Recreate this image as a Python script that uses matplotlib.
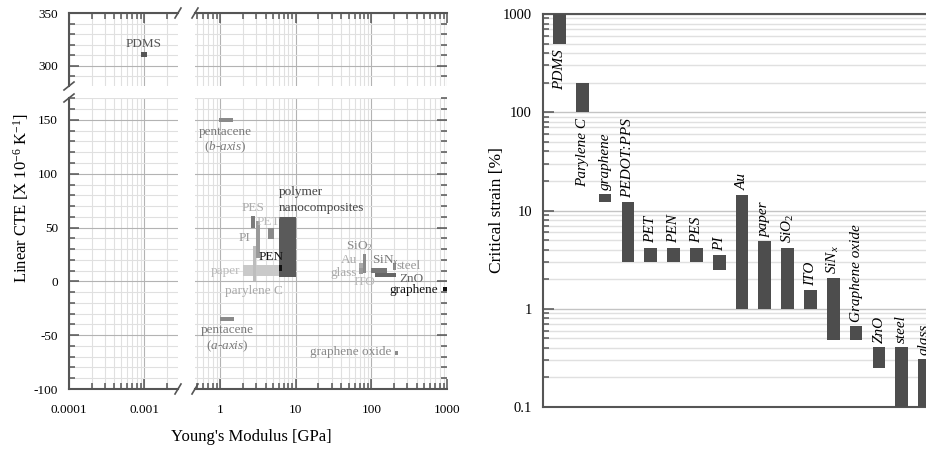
import numpy as np
import matplotlib
matplotlib.use("Agg")
import matplotlib.pyplot as plt
from matplotlib.patches import Rectangle
from matplotlib.ticker import LogLocator, MultipleLocator, FuncFormatter, NullFormatter

plt.rcParams['font.family'] = ['Liberation Serif', 'DejaVu Serif']
plt.rcParams['mathtext.fontset'] = 'custom'
plt.rcParams['mathtext.rm'] = 'Liberation Serif'
plt.rcParams['mathtext.it'] = 'Liberation Serif:italic'
plt.rcParams['axes.unicode_minus'] = False

# ---- left panel: CTE vs Young's modulus (boxes = ranges) ----
cte_names = ['PDMS', 'pentacene (b-axis)', 'pentacene (a-axis)', 'paper', 'parylene C',
             'PI', 'PES', 'PET', 'polymer nanocomposites', 'PEN', 'glass', 'Au', 'SiO2',
             'SiN', 'ZnO', 'steel', 'graphene', 'graphene oxide']
e_low = [0.00092, 0.97, 1.0, 2.0, 2.7, 2.95, 2.54, 4.3, 6.0, 6.0, 69, 69, 77,
         100, 112, 191, 883, 205]
e_high = [0.00108, 1.5, 1.55, 6.2, 3.0, 3.35, 2.89, 5.1, 10.0, 6.6, 77, 77, 85,
          160, 211, 211, 1000, 225]
cte_low = [308.5, 148, -37, 5, 0, 22, 50, 39, 4, 10, 7, 12, 8,
           7.5, 3.7, 11, -9.3, -68.5]
cte_high = [313, 152, -33, 15, 33, 56, 61, 50, 60, 15, 12, 17, 25,
            12, 7.4, 17, -5.5, -64.7]
box_colors = ['#555555', '#8a8a8a', '#8a8a8a', '#c9c9c9', '#bdbdbd', '#9a9a9a', '#7a7a7a',
              '#8a8a8a', '#5a5a5a', '#111111', '#9a9a9a', '#aaaaaa', '#8a8a8a',
              '#777777', '#666666', '#8a8a8a', '#111111', '#8a8a8a']

# label text, E, CTE, horizontal alignment, colour
cte_labels = [
    ('PDMS', 0.00098, 321, 'center', '#555555'),
    ('pentacene', 1.18, 139, 'center', '#7a7a7a'),
    (r'($\mathit{b}$-$\mathit{axis}$)', 1.18, 125, 'center', '#7a7a7a'),
    ('pentacene', 1.26, -45.5, 'center', '#7a7a7a'),
    (r'($\mathit{a}$-$\mathit{axis}$)', 1.26, -60, 'center', '#7a7a7a'),
    ('polymer', 6.0, 83, 'left', '#444444'),
    ('nanocomposites', 6.0, 68, 'left', '#444444'),
    ('PES', 2.73, 68, 'center', '#aaaaaa'),
    ('PET', 4.4, 55, 'center', '#bbbbbb'),
    ('PI', 2.14, 40, 'center', '#999999'),
    ('PEN', 4.7, 23, 'center', '#111111'),
    ('paper', 1.84, 10, 'right', '#bbbbbb'),
    ('parylene C', 2.77, -8.5, 'center', '#aaaaaa'),
    ('SiO$_2$', 70, 33, 'center', '#888888'),
    ('Au', 65, 19.5, 'right', '#aaaaaa'),
    ('glass', 65, 8, 'right', '#aaaaaa'),
    ('ITO', 80, -1, 'center', '#bbbbbb'),
    ('SiN$_x$', 101, 19.5, 'left', '#777777'),
    ('steel', 218, 14, 'left', '#999999'),
    ('ZnO', 232, 2, 'left', '#666666'),
    ('graphene', 760, -8.4, 'right', '#111111'),
    ('graphene oxide', 182, -66, 'right', '#888888'),
]

# ---- right panel: critical strain ranges ----
strain_names = ['PDMS', 'Parylene C', 'graphene', 'PEDOT:PPS', 'PET', 'PEN', 'PES', 'PI',
                'Au', 'paper', 'SiO$_2$', 'ITO', 'SiN$_x$', 'Graphene oxide', 'ZnO',
                'steel', 'glass']
strain_low = [500, 100, 12.3, 3.0, 3.0, 3.0, 3.0, 2.5, 1.0, 1.0, 1.0, 1.0, 0.48, 0.48,
              0.25, 0.1, 0.1]
strain_high = [1000, 200, 14.8, 12.3, 4.2, 4.2, 4.2, 3.5, 14.5, 4.9, 4.2, 1.56, 2.07, 0.67,
               0.41, 0.41, 0.31]
label_below = ['PDMS', 'Parylene C']

W, H = 926, 451
fig = plt.figure(figsize=(W / 100, H / 100), dpi=100)


def add_ax(x0, y0, x1, y1):
    return fig.add_axes([x0 / W, 1 - y1 / H, (x1 - x0) / W, (y1 - y0) / H])


ax_tl = add_ax(69, 13, 178, 86)
ax_tr = add_ax(195, 13, 447, 86)
ax_bl = add_ax(69, 98, 178, 389)
ax_br = add_ax(195, 98, 447, 389)
ax_r = add_ax(543, 14, 941, 407)

spine_c = '#555555'
logfmt = FuncFormatter(lambda v, p: f"{v:g}")

for ax in [ax_tl, ax_tr, ax_bl, ax_br]:
    ax.set_xscale('log')
    ax.xaxis.set_major_locator(LogLocator(base=10, numticks=12))
    ax.xaxis.set_minor_locator(LogLocator(base=10, subs=np.arange(2, 10), numticks=12))
    ax.xaxis.set_major_formatter(logfmt)
    ax.xaxis.set_minor_formatter(NullFormatter())
    ax.yaxis.set_major_locator(MultipleLocator(50))
    ax.yaxis.set_minor_locator(MultipleLocator(10))
    ax.grid(which='minor', color='#e0e0e0', lw=0.8)
    ax.grid(which='major', color='#b3b3b3', lw=0.8)
    ax.set_axisbelow(True)
    for s in ax.spines.values():
        s.set_visible(False)
        s.set_color(spine_c)
        s.set_linewidth(1.5)
    ax.tick_params(which='both', direction='in', color=spine_c, width=1.1,
                   left=False, right=False, top=False, bottom=False,
                   labelleft=False, labelbottom=False, labelsize=9.5, pad=8)
    ax.tick_params(which='major', length=7)
    ax.tick_params(which='minor', length=4)

for ax in [ax_tl, ax_bl]:
    ax.set_xlim(1e-4, 2.84e-3)
for ax in [ax_tr, ax_br]:
    ax.set_xlim(0.467, 1000)
for ax in [ax_tl, ax_tr]:
    ax.set_ylim(281, 350)
    ax.spines['top'].set_visible(True)
    ax.tick_params(which='both', top=True)
for ax in [ax_bl, ax_br]:
    ax.set_ylim(-100, 170.4)
    ax.spines['bottom'].set_visible(True)
    ax.tick_params(which='both', bottom=True, labelbottom=True)
    ax.tick_params(axis='x', pad=11)
for ax in [ax_tl, ax_bl]:
    ax.spines['left'].set_visible(True)
    ax.tick_params(which='both', left=True, labelleft=True)
for ax in [ax_tr, ax_br]:
    ax.tick_params(axis='y', which='both', right=True)

for i, name in enumerate(cte_names):
    for ax in [ax_tl, ax_tr, ax_bl, ax_br]:
        x0, x1 = ax.get_xlim()
        y0, y1 = ax.get_ylim()
        if x0 <= e_low[i] < x1 and y0 <= cte_low[i] < y1:
            ax.add_patch(Rectangle((e_low[i], cte_low[i]), e_high[i] - e_low[i],
                                   cte_high[i] - cte_low[i], color=box_colors[i], lw=0))

for text, e, c, ha, col in cte_labels:
    for ax in [ax_tl, ax_tr, ax_bl, ax_br]:
        x0, x1 = ax.get_xlim()
        y0, y1 = ax.get_ylim()
        if x0 <= e < x1 and y0 <= c < y1:
            ax.text(e, c, text, ha=ha, va='center', fontsize=9.5, color=col)

# break marks
def slash(xp, yp, dx, dy):
    fig.add_artist(plt.Line2D([(xp - dx) / W, (xp + dx) / W], [1 - (yp + dy) / H, 1 - (yp - dy) / H],
                              color=spine_c, lw=1.2))


for xp in [178, 195]:
    slash(xp, 389, 3, 5)
    slash(xp, 13, 3, 5)
for yp in [86, 98]:
    slash(69, yp, 5, 4)

fig.text(251 / W, 1 - 437 / H, "Young's Modulus [GPa]", ha='center', va='center', fontsize=12)
fig.text(21 / W, 1 - 198 / H, r"Linear CTE [X 10$^{-6}$ K$^{-1}$]", ha='center', va='center',
         rotation=90, fontsize=12)

# ---- right panel ----
idx = np.arange(len(strain_names))
heights = np.array(strain_high) - np.array(strain_low)
ax_r.bar(idx, heights, bottom=strain_low, width=0.56, color='#4d4d4d', zorder=3)
ax_r.set_yscale('log')
ax_r.set_ylim(0.1, 1000)
ax_r.set_xlim(-0.72, 16.72)
ax_r.yaxis.set_major_formatter(logfmt)
ax_r.yaxis.set_minor_locator(LogLocator(base=10, subs=np.arange(2, 10), numticks=12))
ax_r.yaxis.set_minor_formatter(NullFormatter())
ax_r.set_xticks([])
ax_r.yaxis.grid(True, which='minor', color='#e0e0e0', lw=1)
ax_r.yaxis.grid(True, which='major', color='#c4c4c4', lw=1)
ax_r.set_axisbelow(True)
for s in ax_r.spines.values():
    s.set_color(spine_c)
    s.set_linewidth(1.5)
ax_r.tick_params(axis='y', which='both', direction='in', color=spine_c, width=1.1,
                 labelsize=10.5, pad=8)
ax_r.tick_params(axis='y', which='major', length=8)
ax_r.tick_params(axis='y', which='minor', length=4)
fig.text(497 / W, 1 - 210 / H, 'Critical strain [%]', ha='center', va='center',
         rotation=90, fontsize=12.5)

for i, name in enumerate(strain_names):
    if name in label_below:
        ax_r.annotate(name, xy=(i, strain_low[i]), xytext=(0, -4), textcoords='offset points',
                      rotation=90, ha='center', va='top', fontsize=11, style='italic')
    else:
        ax_r.annotate(name, xy=(i, strain_high[i]), xytext=(0, 3), textcoords='offset points',
                      rotation=90, ha='center', va='bottom', fontsize=11, style='italic')

fig.savefig('out.png', dpi=100)
